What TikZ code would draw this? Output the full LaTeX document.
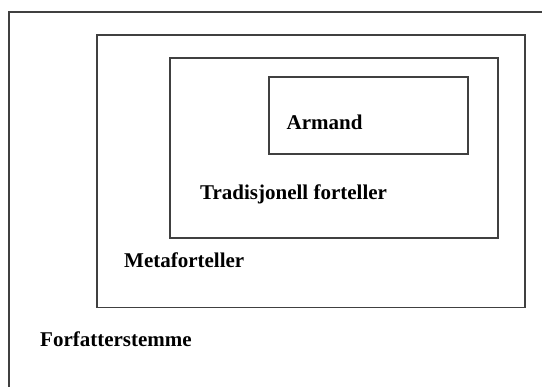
\documentclass[tikz,border=0pt]{standalone}
\usepackage{fontspec}
\setmainfont{Liberation Serif}
\begin{document}
\begin{tikzpicture}[x=1pt,y=-1pt,
  frame/.style={draw={rgb,255:red,64;green,64;blue,64}, line width=1.2pt},
  lbl/.style={anchor=base west, inner sep=0pt, font=\fontsize{21}{25}\selectfont\bfseries}]
\path[use as bounding box] (0,0) rectangle (542,387);
\clip (0,0) rectangle (542,387);
\fill[white] (0,0) rectangle (542,387);
\draw[frame] (9,12) rectangle (570,410);
\draw[frame] (97,35) rectangle (525,307.5);
\draw[frame] (170,58) rectangle (498,238);
\draw[frame] (269,77) rectangle (468,154);
\node[lbl] (armand) at (286.5,130) {Armand};
\node[lbl] (trad) at (200,200) {Tradisjonell forteller};
\node[lbl] (meta) at (124,268) {Metaforteller};
\node[lbl] (forf) at (40,347) {Forfatterstemme};
\end{tikzpicture}
\end{document}
